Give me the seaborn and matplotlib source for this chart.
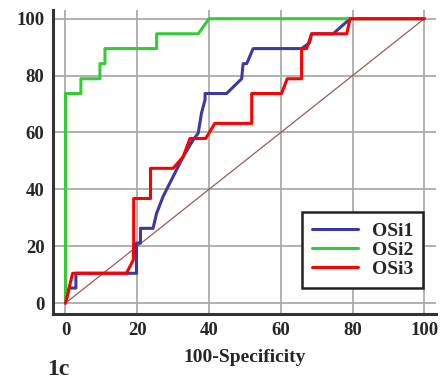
import matplotlib
matplotlib.use("Agg")
import matplotlib.pyplot as plt
import seaborn as sns
import pandas as pd
from matplotlib.ticker import MultipleLocator

# ROC data (100-Specificity, Sensitivity)
osi1_x = [0, 1.0, 2.9, 2.9, 19.8, 19.8, 20.9, 20.9, 24.4, 25.4, 27.2, 30.0, 32.8, 35.6, 37.0, 37.9, 38.9, 38.9, 44.9, 49.1, 49.5, 50.5, 52.3, 65.8, 68.0, 68.6, 74.6, 79.3, 100]
osi1_y = [0, 5.3, 5.3, 10.5, 10.5, 21.1, 21.1, 26.3, 26.3, 31.6, 37.5, 44.5, 51.5, 57.4, 59.8, 66.8, 71.5, 73.7, 73.7, 78.9, 84.2, 84.2, 89.5, 89.5, 91.5, 94.7, 94.7, 100, 100]

osi2_x = [0, 0, 4.3, 4.3, 9.6, 9.6, 11.0, 11.0, 25.4, 25.4, 37.0, 40.0, 100]
osi2_y = [0, 73.7, 73.7, 78.9, 78.9, 84.2, 84.2, 89.5, 89.5, 94.7, 94.7, 100, 100]

osi3_x = [0, 1.0, 2.0, 17.0, 18.9, 19.0, 19.0, 23.7, 23.7, 30.0, 32.8, 34.7, 39.1, 41.6, 51.9, 51.9, 60.2, 61.8, 65.8, 65.8, 67.2, 68.6, 78.4, 79.3, 100]
osi3_y = [0, 5.3, 10.5, 10.5, 15.2, 21.1, 36.8, 36.8, 47.4, 47.4, 51.5, 57.9, 57.9, 63.2, 63.2, 73.7, 73.7, 78.9, 78.9, 89.5, 89.5, 94.7, 94.7, 100, 100]

diag_x = [0, 100]
diag_y = [0, 100]

series_names = ["OSi1", "OSi2", "OSi3"]
series_colors = ["#3a3aa0", "#33cc33", "#ff0000"]

sns.set_style("white")
serif = ["Liberation Serif", "DejaVu Serif"]
plt.rcParams["font.family"] = serif

fig = plt.figure(figsize=(4.41, 3.81), dpi=100)
ax = fig.add_axes([0.120, 0.176, 0.869, 0.798])

ax.grid(True, which="major", color="#ababab", linewidth=1.3)
ax.set_axisbelow(True)

sns.lineplot(x=diag_x, y=diag_y, ax=ax, color="#9a5a5a", linewidth=0.9,
             sort=False, estimator=None, legend=False)

for name, xs, ys, c in zip(series_names, [osi1_x, osi2_x, osi3_x],
                           [osi1_y, osi2_y, osi3_y], series_colors):
    df = pd.DataFrame({"x": xs, "y": ys})
    sns.lineplot(data=df, x="x", y="y", ax=ax, color=c, linewidth=2.2,
                 sort=False, estimator=None, label=name)

ax.set_xlim(-3.5, 103.3)
ax.set_ylim(-3.8, 103.1)
ax.xaxis.set_major_locator(MultipleLocator(20))
ax.yaxis.set_major_locator(MultipleLocator(20))
ax.yaxis.set_minor_locator(MultipleLocator(5))

for s in ["top", "right"]:
    ax.spines[s].set_visible(False)
for s in ["left", "bottom"]:
    ax.spines[s].set_color("#333333")
    ax.spines[s].set_linewidth(2.2)

ax.tick_params(axis="both", which="major", direction="in", length=7, width=2.4,
               color="#333333", labelsize=13.5, pad=6)
ax.tick_params(axis="y", which="minor", direction="in", length=4.5, width=1.2,
               color="#333333")
for lab in ax.get_xticklabels() + ax.get_yticklabels():
    lab.set_fontweight("bold")

ax.set_xlabel("100-Specificity", fontsize=14, fontweight="bold", labelpad=7)
ax.set_ylabel("")

leg = ax.legend(loc="lower right", bbox_to_anchor=(0.966, 0.086), frameon=True,
                fancybox=False, edgecolor="#222222", framealpha=1,
                prop={"family": serif, "weight": "bold", "size": 14},
                handlelength=2.4, handletextpad=0.7, labelspacing=0.08,
                borderpad=0.5, borderaxespad=0)
leg.get_frame().set_linewidth(1.8)

fig.text(0.107, 0.016, "1c", fontsize=17, fontweight="bold", family=serif)

fig.savefig("out.png", dpi=100)
